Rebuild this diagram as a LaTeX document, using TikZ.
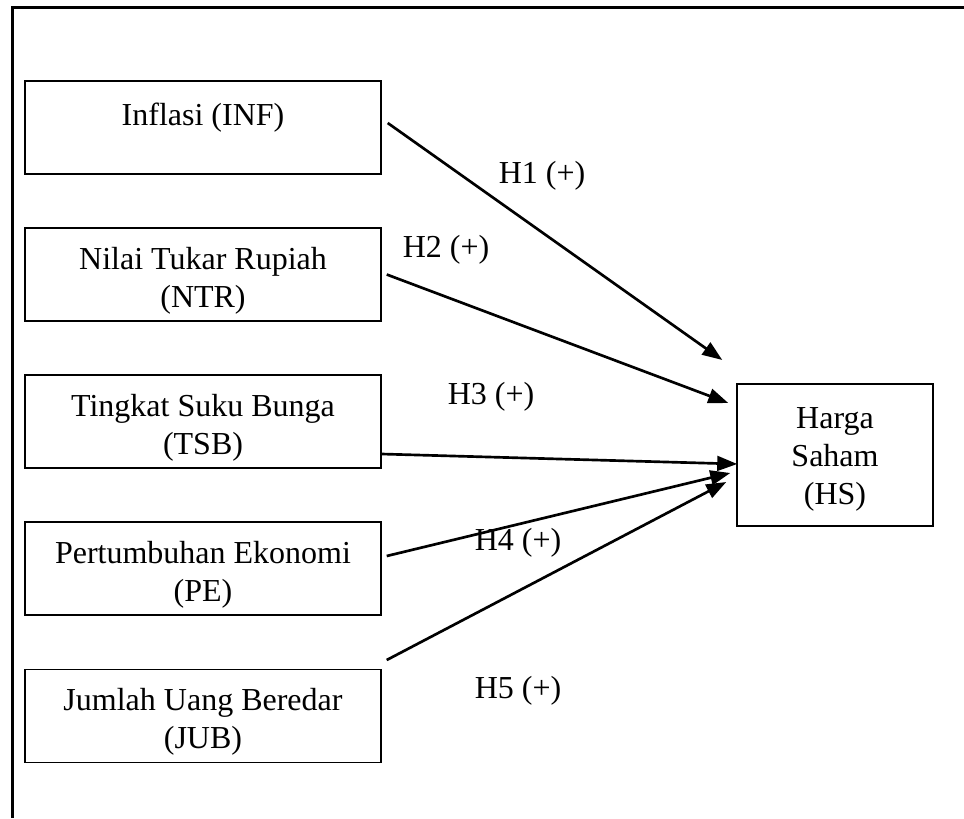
\documentclass[tikz,border=0pt]{standalone}
\usepackage{fontspec}
\setmainfont{Liberation Serif}
\usetikzlibrary{arrows.meta}
\newcommand{\lift}[1]{\rule{0pt}{#1}}

\begin{document}
\begin{tikzpicture}[x=0.75pt,y=-0.75pt]
\tikzset{var/.style = {shape=rectangle,draw,line width=1.1pt,align=center,minimum width=267pt,minimum height=69.75pt,inner sep=0pt,font=\fontsize{24}{28.5}\selectfont}}
\tikzset{edge/.style = {-{Triangle[length=15pt,width=11pt]},line width=2pt}}
\tikzset{hyp/.style = {anchor=base,inner sep=0pt,font=\fontsize{24}{28.5}\selectfont}}
\useasboundingbox (0,0) rectangle (964,818);
\draw[line width=2.25pt] (964,7) -- (12,7) -- (12,818);
\node[var] (inf) at (203,127.5) {\lift{25pt}Inflasi (INF)\\\mbox{}};
\node[var] (ntr) at (203,274.5) {\lift{25.5pt}Nilai Tukar Rupiah\\(NTR)};
\node[var] (tsb) at (203,421.5) {\lift{25.5pt}Tingkat Suku Bunga\\(TSB)};
\node[var] (pe) at (203,568.5) {\lift{25.5pt}Pertumbuhan Ekonomi\\(PE)};
\node[var] (jub) at (203,716) {\lift{25.5pt}Jumlah Uang Beredar\\(JUB)};
\node[var, minimum width=147pt, minimum height=106.5pt] (hs) at (835,455) {\lift{22.5pt}Harga\\Saham\\(HS)};
\node[hyp] (h1) at (542,183) {H1 (+)};
\node[hyp] (h2) at (446,257) {H2 (+)};
\node[hyp] (h3) at (491,404) {H3 (+)};
\node[hyp] (h4) at (518,550) {H4 (+)};
\node[hyp] (h5) at (518,698) {H5 (+)};
\draw[edge] ([shift={(6,-4.5)}]inf.east) to ([shift={(-14,-95)}]hs.west);
\draw[edge] ([shift={(5,0)}]ntr.east) to ([shift={(-8,-52)}]hs.west);
\draw[edge] ([shift={(0,32.5)}]tsb.east) to ([shift={(1,9)}]hs.west);
\draw[edge] ([shift={(5,-12.5)}]pe.east) to ([shift={(-6,18)}]hs.west);
\draw[edge] ([shift={(5,-56)}]jub.east) to ([shift={(-10,27)}]hs.west);
\end{tikzpicture}
\end{document}
